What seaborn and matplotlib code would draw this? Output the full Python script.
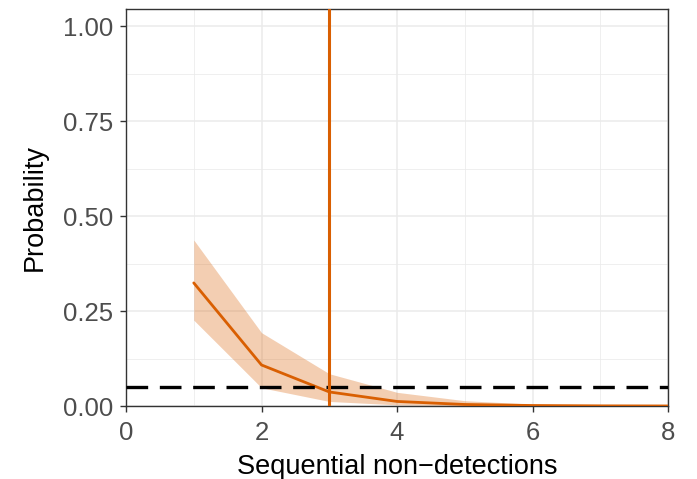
import numpy as np
import pandas as pd
import seaborn as sns
import matplotlib.pyplot as plt

# Данные: вероятность по числу последовательных необнаружений
n_nondetect = [1, 2, 3, 4, 5, 6, 7, 8]
prob_mean = [0.324, 0.108, 0.037, 0.012, 0.004, 0.0013, 0.0004, 0.0001]
prob_low = [0.226, 0.048, 0.012, 0.003, 0.0008, 0.0002, 0.00005, 0.00001]
prob_high = [0.437, 0.193, 0.085, 0.036, 0.014, 0.005, 0.0018, 0.0006]
threshold = 0.05
cutoff = 3
x_ticks = [0, 2, 4, 6, 8]
y_ticks = [0.00, 0.25, 0.50, 0.75, 1.00]

df = pd.DataFrame({'n': n_nondetect, 'p': prob_mean, 'lo': prob_low, 'hi': prob_high})

orange = '#D95F02'

sns.set_style('whitegrid')
plt.rcParams['font.family'] = ['Liberation Sans', 'DejaVu Sans']

fig, ax = plt.subplots(figsize=(6.97, 4.79), dpi=100)
fig.subplots_adjust(left=0.1808, right=0.9584, top=0.9812, bottom=0.1524)

ax.fill_between(df['n'], df['lo'], df['hi'], color=orange, alpha=0.3, linewidth=0, zorder=2)
sns.lineplot(data=df, x='n', y='p', color=orange, linewidth=2.0, ax=ax, zorder=3)
ax.axhline(threshold, color='black', linewidth=2.4, dashes=(6.5, 3.5), zorder=4)
ax.axvline(cutoff, color=orange, linewidth=2.2, zorder=5)

ax.set_xlim(0, 8)
ax.set_ylim(0, 1.045)
ax.set_xticks(x_ticks)
ax.set_yticks(y_ticks)
ax.set_xticklabels([str(t) for t in x_ticks])
ax.set_yticklabels([f'{t:.2f}' for t in y_ticks])
ax.set_xticks([1, 3, 5, 7], minor=True)
ax.set_yticks([0.125, 0.375, 0.625, 0.875], minor=True)

ax.grid(which='major', color='#EBEBEB', linewidth=1.1)
ax.grid(which='minor', color='#EBEBEB', linewidth=0.55)
ax.set_axisbelow(True)

for s in ax.spines.values():
    s.set_color('#333333')
    s.set_linewidth(1.0)

ax.tick_params(axis='both', which='major', length=4, width=1.0, color='#333333',
               labelsize=18.5, labelcolor='#4D4D4D', bottom=True, left=True)
ax.tick_params(axis='x', which='major', pad=7)
ax.tick_params(axis='y', which='major', pad=5)
ax.tick_params(axis='both', which='minor', length=0)

ax.set_xlabel('Sequential non\u2212detections', fontsize=19.5, color='black', labelpad=6)
ax.set_ylabel('Probability', fontsize=19.5, color='black', labelpad=11)

plt.savefig('out.png', dpi=100)
